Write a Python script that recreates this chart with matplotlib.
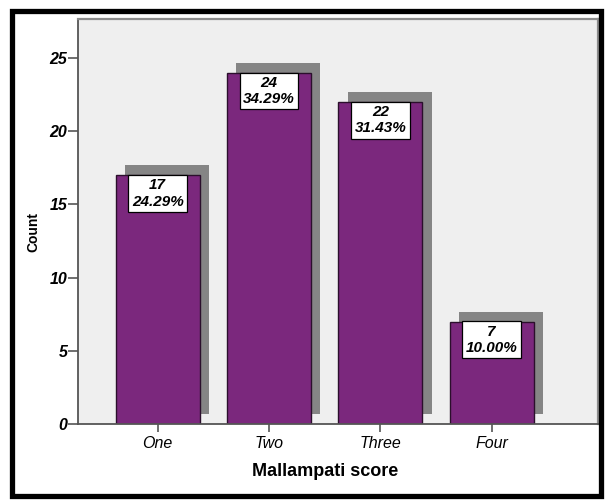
import matplotlib.pyplot as plt
from matplotlib.patches import Rectangle
from matplotlib.transforms import ScaledTranslation

plt.rcParams['font.family'] = ['Liberation Sans', 'DejaVu Sans']

# Mallampati score counts
categories = ['One', 'Two', 'Three', 'Four']
counts = [17, 24, 22, 7]
percents = [24.29, 34.29, 31.43, 10.00]

bar_color = '#7b287d'
shadow_color = '#858585'

fig = plt.figure(figsize=(6.05, 5), dpi=100)
ax = fig.add_axes([0.1284, 0.152, 0.8596, 0.8094])
ax.set_facecolor('#efefef')

x = list(range(len(categories)))
width = 0.757

# drop shadow: same bars shifted right and up
shift = ax.transData + ScaledTranslation(0.093, 0.10, fig.dpi_scale_trans)
ax.bar(x, counts, width=width, color=shadow_color, transform=shift, zorder=1)
ax.bar(x, counts, width=width, color=bar_color, edgecolor='#2b0f2c',
       linewidth=1.0, zorder=2)

for xi, c, p in zip(x, counts, percents):
    ax.annotate(f'{c}\n{p:.2f}%', xy=(xi, c), xytext=(0, -2.4),
                textcoords='offset points', ha='center', va='top',
                fontsize=11, fontweight='bold', fontstyle='italic',
                linespacing=1.2, zorder=3,
                bbox=dict(boxstyle='square,pad=0.22', fc='white',
                          ec='black', lw=0.9))

ax.set_xlim(-0.719, 3.953)
ax.set_ylim(0, 27.64)
ax.set_yticks([0, 5, 10, 15, 20, 25])
ax.set_xticks(x)
ax.set_xticklabels(categories)

for lab in ax.get_yticklabels():
    lab.set_fontweight('bold')
    lab.set_fontstyle('italic')
    lab.set_fontsize(11.5)
for lab in ax.get_xticklabels():
    lab.set_fontstyle('italic')
    lab.set_fontsize(11.5)

ax.tick_params(axis='y', direction='out', length=7, width=1.2,
               color='#555555', pad=0.5)
ax.tick_params(axis='x', direction='out', length=6, width=1.2,
               color='#555555', pad=3)

for side in ('left', 'bottom'):
    ax.spines[side].set_color('#555555')
    ax.spines[side].set_linewidth(1.3)
for side in ('top', 'right'):
    ax.spines[side].set_color('#8c8c8c')
    ax.spines[side].set_linewidth(1.6)

# axis titles
ax.text(sum(x) / len(x), -0.117, 'Mallampati score',
        transform=ax.get_xaxis_transform(), ha='center', va='center',
        fontsize=13, fontweight='bold')
fig.text(33 / 605, 1 - 232 / 500, 'Count', rotation=90, ha='center',
         va='center', fontsize=10, fontweight='bold')

# outer frame
fig.patches.append(Rectangle((12 / 605, 4 / 500), 589 / 605, 485 / 500,
                             transform=fig.transFigure, fill=False,
                             ec='black', lw=3.8))

fig.savefig('out.png', dpi=100)
